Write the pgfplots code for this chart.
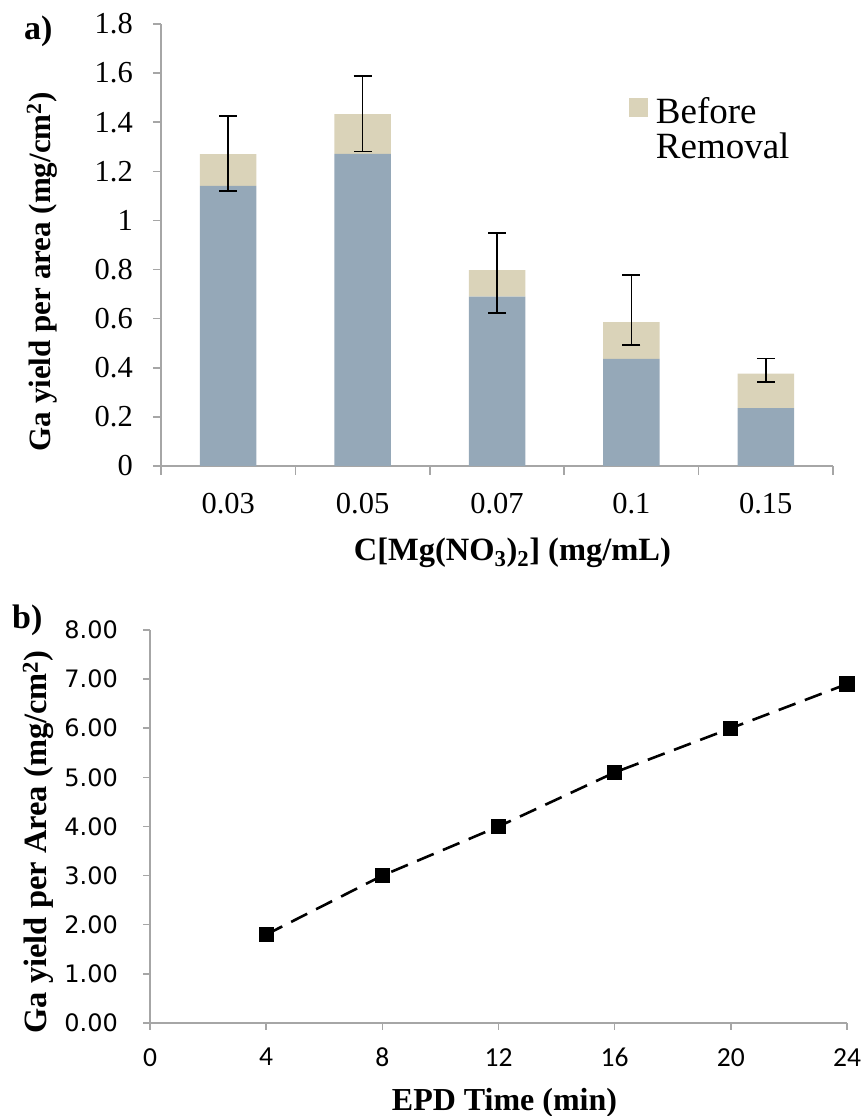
\documentclass[border=0pt]{standalone}
\usepackage{pgfplots}
\pgfplotsset{compat=1.18}
\usepackage{fontspec}
\setmainfont{Liberation Serif}
\newfontfamily\dejavu{DejaVu Sans}
\newfontfamily\carlito{Carlito}
\definecolor{barblue}{RGB}{149,168,184}
\definecolor{barbeige}{RGB}{218,211,185}
\definecolor{axgray}{RGB}{166,166,166}
\begin{document}
\begin{tikzpicture}
\useasboundingbox (0,0) rectangle (862bp,1116bp);
% ---------- panel a ----------
\begin{axis}[
  at={(161bp,650bp)}, anchor=south west,
  scale only axis, width=672bp, height=442bp,
  xmin=-0.5, xmax=4.5, ymin=0, ymax=1.8,
  ybar stacked, bar width=56.5bp,
  axis x line*=bottom, axis y line*=left,
  axis line style={draw=axgray, line width=1.5bp, -},
  tick style={draw=axgray, line width=1.5bp},
  tick align=outside,
  major tick length=8bp, minor tick length=9bp,
  xtick={0,1,2,3,4},
  xticklabels={0.03,0.05,0.07,0.1,0.15},
  minor xtick={-0.5,0.5,1.5,2.5,3.5,4.5},
  major x tick style={draw=none},
  ytick={0,0.2,0.4,0.6,0.8,1,1.2,1.4,1.6,1.8},
  /pgf/number format/assume math mode=true,
  yticklabel style={font=\fontsize{30.5bp}{36bp}\selectfont, anchor=east, inner sep=0pt, xshift=-20bp},
  xticklabel style={font=\fontsize{30.5bp}{36bp}\selectfont, anchor=north, inner sep=0pt, yshift=-19bp},
  xlabel={C[Mg(NO\textsubscript{3})\textsubscript{2}] (mg/mL)},
  xlabel style={font=\fontsize{32.5bp}{39bp}\selectfont\bfseries, at={(axis description cs:0.523,-0.2127)}, anchor=base},
  ylabel={Ga yield per area (mg/cm\textsuperscript{2})},
  ylabel style={font=\fontsize{31bp}{37bp}\selectfont\bfseries, at={(axis description cs:-0.165,0.439)}, anchor=base},
  legend style={at={(axis description cs:0.696,0.835)}, anchor=north west, draw=none, fill=none,
    inner sep=0pt, row sep=7.7bp, column sep=8bp,
    font=\fontsize{37bp}{44bp}\selectfont, nodes={inner sep=0pt}, cells={anchor=west}},
  legend image code/.code={\fill[barbeige] (0bp,-6.5bp) rectangle (19bp,12.5bp);},
]
\addplot[fill=barblue, draw=none, forget plot] coordinates {(0,1.141) (1,1.271) (2,0.690) (3,0.436) (4,0.236)};
\addplot[fill=barbeige, draw=none] coordinates {(0,0.129) (1,0.162) (2,0.108) (3,0.150) (4,0.140)};
\addlegendentry{Before\rule[-9bp]{0pt}{35bp}}
\addlegendimage{empty legend}
\addlegendentry{Removal\rule[-9bp]{0pt}{35bp}}
\end{axis}
% error bars of panel a (overlay axis with identical geometry)
\begin{axis}[
  at={(161bp,650bp)}, anchor=south west,
  scale only axis, width=672bp, height=442bp,
  xmin=-0.5, xmax=4.5, ymin=0, ymax=1.8,
  hide axis, clip=false,
]
\addplot[draw=none, mark=none, forget plot,
  error bars/.cd, y dir=both, y explicit,
  error bar style={draw=black, line width=1.6bp},
  error mark options={draw=black, rotate=90, mark size=9bp, line width=1.6bp}]
  coordinates {
  (0,1.270) += (0,0.156) -= (0,0.149)
  (1,1.433) += (0,0.154) -= (0,0.152)
  (2,0.798) += (0,0.151) -= (0,0.174)
  (3,0.586) += (0,0.192) -= (0,0.093)
  (4,0.376) += (0,0.062) -= (0,0.033)
  };
\end{axis}
\node[anchor=base west, inner sep=0pt, font=\fontsize{34bp}{40bp}\selectfont\bfseries] at (24bp,1076.7bp) {a)};
% ---------- panel b ----------
\begin{axis}[
  at={(150bp,93bp)}, anchor=south west,
  scale only axis, width=697bp, height=393bp,
  xmin=0, xmax=24, ymin=0, ymax=8,
  xtick={0,4,8,12,16,20,24}, ytick={0,1,2,3,4,5,6,7,8},
  axis x line*=bottom, axis y line*=left,
  axis line style={draw=axgray, line width=1.5bp, -},
  tick style={draw=axgray, line width=1.5bp},
  tick align=outside, major tick length=7bp,
  clip=false,
  /pgf/number format/assume math mode=true,
  yticklabel style={font=\dejavu\fontsize{24bp}{28bp}\selectfont, anchor=east, inner sep=0pt, xshift=-25bp,
    /pgf/number format/fixed, /pgf/number format/fixed zerofill, /pgf/number format/precision=2},
  xticklabel style={font=\carlito\fontsize{27.5bp}{32bp}\selectfont, anchor=north, inner sep=0pt, yshift=-18bp},
  xlabel={EPD Time (min)},
  xlabel style={font=\fontsize{32bp}{38bp}\selectfont\bfseries, at={(axis description cs:0.5086,-0.2214)}, anchor=base},
  ylabel={Ga yield per Area (mg/cm\textsuperscript{2})},
  ylabel style={font=\fontsize{32.5bp}{39bp}\selectfont\bfseries, at={(axis description cs:-0.1478,0.4606)}, anchor=base},
]
\addplot[black, line width=2.6bp, dash pattern=on 18bp off 10bp, mark=square*, mark size=6.3bp, mark options={solid, fill=black}]
  coordinates {(4,1.80) (8,3.00) (12,4.00) (16,5.10) (20,6.00) (24,6.90)};
\end{axis}
\node[anchor=base west, inner sep=0pt, font=\fontsize{34bp}{40bp}\selectfont\bfseries] at (12bp,487bp) {b)};
\end{tikzpicture}
\end{document}
